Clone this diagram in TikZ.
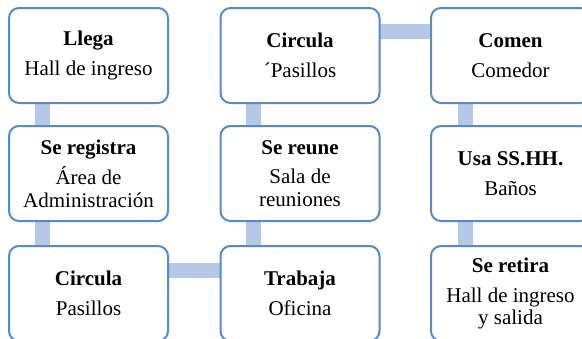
\documentclass[tikz,border=0pt]{standalone}
\usepackage{fontspec}
\setmainfont{Liberation Serif}
\usetikzlibrary{backgrounds}
\definecolor{boxline}{HTML}{5A8AC6}
\definecolor{linkc}{HTML}{B4C8E8}
\begin{document}
\begin{tikzpicture}[x=1pt,y=-1pt,
  stepbox/.style={draw=boxline,line width=2pt,rounded corners=10pt,fill=white,
    minimum width=159pt,minimum height=95pt,inner sep=0pt,align=center,
    font=\fontsize{21}{22.5}\selectfont},
  link/.style={draw=linkc,line width=15pt,shorten <=-3pt,shorten >=-3pt}]
\useasboundingbox (0,0) rectangle (582,338);
\clip (0,0) rectangle (582,338);
\node[stepbox] (a1) at (88.5,55.5) {\textbf{Llega}\\[7pt]Hall de ingreso};
\node[stepbox] (a2) at (88.5,173.5) {\textbf{Se registra}\\[7pt]Área de\\Administración};
\node[stepbox] (a3) at (88.5,293.5) {\textbf{Circula}\\[7pt]Pasillos};
\node[stepbox] (b1) at (300,55.5) {\textbf{Circula}\\[7pt]´Pasillos};
\node[stepbox] (b2) at (300,173.5) {\textbf{Se reune}\\[7pt]Sala de\\reuniones};
\node[stepbox] (b3) at (300,293.5) {\textbf{Trabaja}\\[7pt]Oficina};
\node[stepbox] (c1) at (510.5,55.5) {\textbf{Comen}\\[7pt]Comedor};
\node[stepbox] (c2) at (510.5,173.5) {\textbf{Usa SS.HH.}\\[7pt]Baños};
\node[stepbox] (c3) at (510.5,293.5) {\textbf{Se retira}\\[7pt]Hall de ingreso\\y salida};
\begin{scope}[on background layer]
\draw[link] ([xshift=-46pt]a1.south) -- ([xshift=-46pt]a2.north);
\draw[link] ([xshift=-46pt]a2.south) -- ([xshift=-46pt]a3.north);
\draw[link] ([yshift=23.5pt]a3.east) -- ([yshift=23.5pt]b3.west);
\draw[link] ([xshift=-46.5pt]b3.north) -- ([xshift=-46.5pt]b2.south);
\draw[link] ([xshift=-46.5pt]b2.north) -- ([xshift=-46.5pt]b1.south);
\draw[link] ([yshift=24.5pt]b1.east) -- ([yshift=24.5pt]c1.west);
\draw[link] ([xshift=-45.5pt]c1.south) -- ([xshift=-45.5pt]c2.north);
\draw[link] ([xshift=-45.5pt]c2.south) -- ([xshift=-45.5pt]c3.north);
\end{scope}
\end{tikzpicture}
\end{document}
